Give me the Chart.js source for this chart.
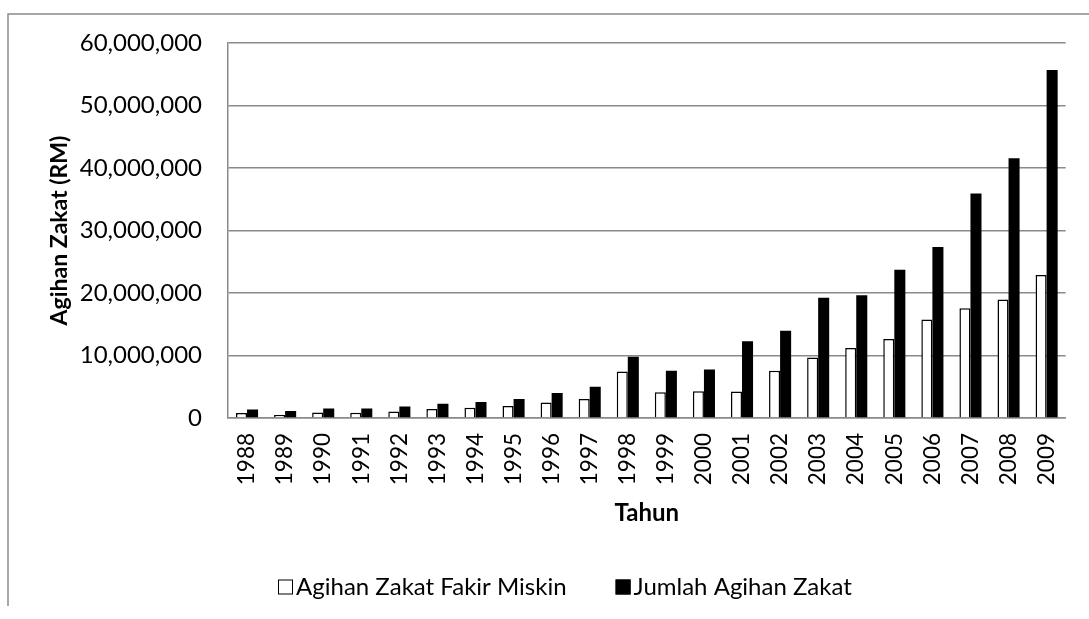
<!DOCTYPE html>
<html>
<head>
<meta charset="utf-8">
<script src="https://cdn.jsdelivr.net/npm/chart.js@4"></script>
<style>
  html, body { margin: 0; padding: 0; background: #fff; }
  #wrap { width: 1089px; height: 619px; }
</style>
</head>
<body>
<div id="wrap"><canvas id="myChart"></canvas></div>
<script>
// data
const years = ["1988","1989","1990","1991","1992","1993","1994","1995","1996","1997","1998",
               "1999","2000","2001","2002","2003","2004","2005","2006","2007","2008","2009"];
const fakirMiskin = [800000, 480000, 900000, 850000, 1060000, 1440000, 1650000, 1910000, 2500000, 3030000, 7450000,
                     4120000, 4290000, 4230000, 7550000, 9690000, 11190000, 12640000, 15750000, 17570000, 18960000, 22870000];
const jumlahAgihan = [1380000, 1120000, 1540000, 1540000, 1860000, 2290000, 2550000, 3050000, 3990000, 5000000, 9790000,
                      7550000, 7770000, 12270000, 13980000, 19230000, 19660000, 23730000, 27370000, 35940000, 41560000, 55700000];
const yTicks = [0, 10000000, 20000000, 30000000, 40000000, 50000000, 60000000];

const gridColor = '#8a8a8a';
const fontName = 'Lato, "Open Sans", sans-serif';

// outer frame of the chart box (top and left edge only show)
const framePlugin = {
    id: 'frame',
    beforeDraw(chart) {
        const ctx = chart.ctx;
        ctx.save();
        ctx.strokeStyle = gridColor;
        ctx.lineWidth = 1.5;
        ctx.beginPath();
        ctx.moveTo(8, 606);
        ctx.lineTo(8, 14);
        ctx.lineTo(1089, 14);
        ctx.stroke();
        ctx.restore();
    }
};

// legend drawn by hand so the box sits right against the text
const bottomLegend = {
    id: 'bottomLegend',
    afterDraw(chart) {
        const ctx = chart.ctx;
        const y = 587;
        let x = 278;
        ctx.save();
        ctx.font = '24px ' + fontName;
        ctx.textBaseline = 'middle';
        ctx.textAlign = 'left';
        chart.data.datasets.forEach(ds => {
            ctx.fillStyle = ds.backgroundColor;
            ctx.fillRect(x, y - 7.5, 15, 15);
            ctx.strokeStyle = '#000';
            ctx.lineWidth = 1;
            ctx.strokeRect(x + 0.5, y - 7, 14, 14);
            ctx.fillStyle = '#000';
            ctx.fillText(ds.label, x + 18, y);
            x += 18 + ctx.measureText(ds.label).width + 49;
        });
        ctx.restore();
    }
};

const ctx = document.getElementById('myChart').getContext('2d');

new Chart(ctx, {
    type: 'bar',
    data: {
        labels: years,
        datasets: [{
            label: 'Agihan Zakat Fakir Miskin',
            data: fakirMiskin,
            backgroundColor: '#ffffff',
            borderColor: '#000000',
            borderWidth: 1.5,
            borderSkipped: 'bottom'
        }, {
            label: 'Jumlah Agihan Zakat',
            data: jumlahAgihan,
            backgroundColor: '#000000',
            borderColor: '#000000',
            borderWidth: 0
        }]
    },
    options: {
        responsive: true,
        maintainAspectRatio: false,
        animation: false,
        datasets: {
            bar: { barPercentage: 1.0, categoryPercentage: 0.58 }
        },
        layout: {
            padding: { top: 43, right: 17, bottom: 0, left: 0 }
        },
        plugins: {
            tooltip: { enabled: false },
            legend: { display: false }
        },
        scales: {
            x: {
                grid: { display: false, drawTicks: false },
                border: { display: true, color: gridColor, width: 1.5 },
                ticks: {
                    color: '#000',
                    font: { family: fontName, size: 22.5 },
                    minRotation: 90,
                    maxRotation: 90,
                    padding: 15,
                    autoSkip: false
                },
                title: {
                    display: true,
                    text: 'Tahun',
                    color: '#000',
                    font: { family: fontName, size: 24, weight: 'bold' },
                    padding: { top: 0, bottom: 91 }
                },
                afterFit(scale) {
                    scale.height = 619 - 418;
                }
            },
            y: {
                min: 0,
                max: 60000000,
                afterBuildTicks(scale) {
                    scale.ticks = yTicks.map(v => ({ value: v }));
                },
                grid: { color: gridColor, lineWidth: 1.5, drawTicks: false },
                border: { display: true, color: gridColor, width: 1.5 },
                ticks: {
                    color: '#000',
                    font: { family: fontName, size: 24 },
                    padding: 26,
                    callback: v => v.toLocaleString('en-US')
                },
                title: {
                    display: true,
                    text: 'Agihan Zakat (RM)',
                    color: '#000',
                    font: { family: fontName, size: 23, weight: 'bold' },
                    padding: { top: 46, bottom: 0 }
                },
                afterFit(scale) {
                    scale.width = 228;
                }
            }
        }
    },
    plugins: [framePlugin, bottomLegend]
});
</script>
</body>
</html>
